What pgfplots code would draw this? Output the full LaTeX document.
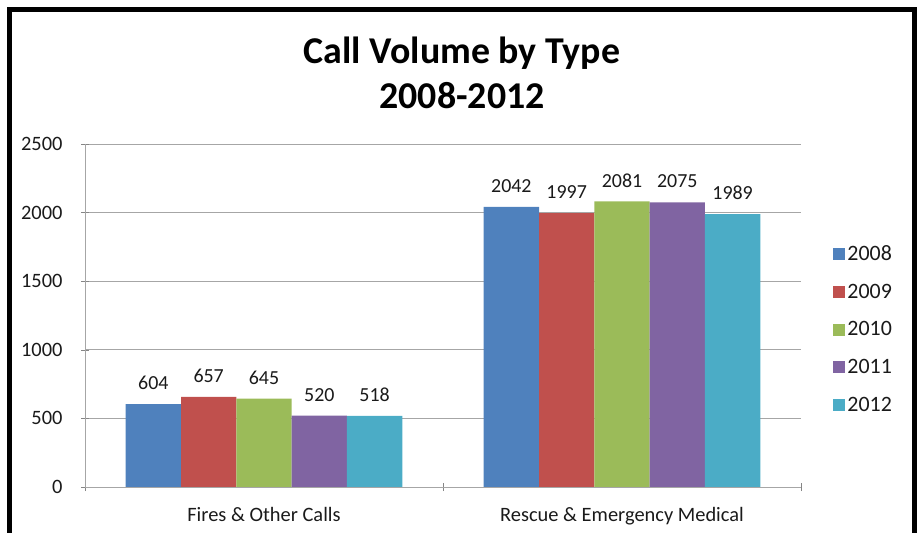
\documentclass[border=0pt]{standalone}
\usepackage{pgfplots}
\pgfplotsset{compat=1.18}
\usepackage{fontspec}
\setmainfont{Carlito}
\definecolor{c2008}{HTML}{4F81BD}
\definecolor{c2009}{HTML}{C0504D}
\definecolor{c2010}{HTML}{9BBB59}
\definecolor{c2011}{HTML}{8064A2}
\definecolor{c2012}{HTML}{4BACC6}
\definecolor{gridgray}{HTML}{A6A6A6}
\definecolor{txt}{HTML}{1A1A1A}
\begin{document}
\begin{tikzpicture}
\path[use as bounding box] (0bp,0bp) rectangle (921bp,533bp);
% outer frame (cut at the bottom)
\draw[line width=5bp,black] (9bp,-5bp) -- (9bp,523.5bp) -- (914bp,523.5bp) -- (914bp,-5bp);
\node[font=\fontsize{38}{45}\selectfont\bfseries, align=center, text=black] at (462bp,460bp) {Call Volume by Type\\2008-2012};
\begin{axis}[
  at={(85bp,46bp)}, anchor=south west,
  scale only axis, width=716bp, height=343bp,
  ybar=0pt, bar width=0.1545,
  xmin=-0.5, xmax=1.5,
  ymin=0, ymax=2500,
  ytick={0,500,1000,1500,2000,2500},
  xtick={0,1},
  xticklabels={Fires \& Other Calls, Rescue \& Emergency Medical},
  minor xtick={-0.5,0.5,1.5},
  major x tick style={draw=none},
  minor tick length=8bp, major tick length=8bp,
  tick align=outside,
  axis x line=bottom, axis y line=left,
  axis line style={-, draw=gridgray},
  tick style={draw=gridgray!80!black},
  ymajorgrids=true, grid style={draw=gridgray, line width=0.8bp},
  ticklabel style={font=\fontsize{20.5}{24}\selectfont, text=txt},
  /pgf/number format/assume math mode=true,
  /pgf/number format/set thousands separator={},
  yticklabel style={xshift=-15bp},
  xticklabel style={yshift=-13bp},
  nodes near coords,
  every node near coord/.append style={font=\fontsize{20}{24}\selectfont, text=txt, anchor=south, inner sep=0pt, yshift=14bp},
  legend style={at={(1.045,0.46)}, anchor=west, draw=none, font=\fontsize{22}{26}\selectfont, text=txt, row sep=18bp, inner sep=0pt},
  legend cell align=left,
  legend image code/.code={\fill[#1] (0bp,-6bp) rectangle (12bp,6bp);},
]
\addplot[fill=c2008, draw=none, bar shift=-0.309] coordinates {(0,604) (1,2042)};
\addplot[fill=c2009, draw=none, bar shift=-0.1545] coordinates {(0,657) (1,1997)};
\addplot[fill=c2010, draw=none, bar shift=0] coordinates {(0,645) (1,2081)};
\addplot[fill=c2011, draw=none, bar shift=0.1545] coordinates {(0,520) (1,2075)};
\addplot[fill=c2012, draw=none, bar shift=0.309] coordinates {(0,518) (1,1989)};
\legend{2008,2009,2010,2011,2012}
\end{axis}
\end{tikzpicture}
\end{document}
